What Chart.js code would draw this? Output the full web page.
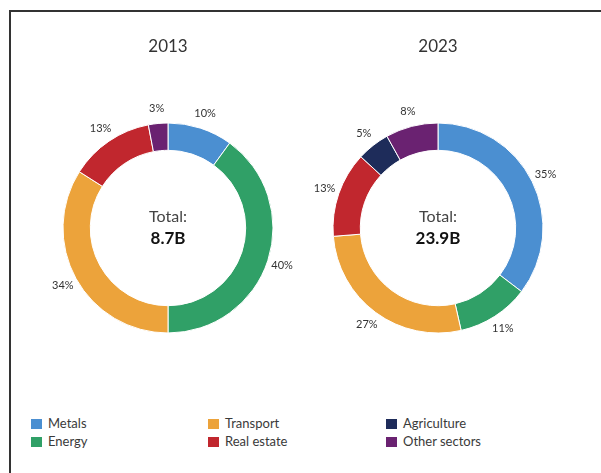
<!DOCTYPE html>
<html>
<head>
<meta charset="utf-8">
<title>Sector split 2013 vs 2023</title>
<script src="https://cdn.jsdelivr.net/npm/chart.js@4.4.1/dist/chart.umd.min.js"></script>
<style>
    html, body { margin: 0; padding: 0; background: #fff; }
    body { width: 601px; height: 473px; position: relative; overflow: hidden; font-family: Lato, "DejaVu Sans", sans-serif; }
    #frame {
        position: absolute; left: 9px; top: 10px; right: -5px; bottom: -5px;
        border-top: 2px solid #333; border-left: 2px solid #333;
    }
    .ring { position: absolute; top: 20px; }
    #legend { position: absolute; left: 0; top: 0; }
    .item { position: absolute; height: 16px; line-height: 16px; font-size: 13px; color: #3a3a3a; white-space: nowrap; }
    .item span { display: inline-block; width: 11px; height: 10px; margin-right: 6px; vertical-align: -1px; }
</style>
</head>
<body>
<div id="frame"></div>
<canvas id="ring2013" class="ring" width="300" height="370" style="left:18px"></canvas>
<canvas id="ring2023" class="ring" width="300" height="370" style="left:288px"></canvas>
<div id="legend"></div>

<script>
// Sectors and their share of the total (percent)
const sectors = ['Metals', 'Energy', 'Transport', 'Real estate', 'Agriculture', 'Other sectors'];
const sectorColors = ['#4b8fd1', '#30a067', '#eca33b', '#c1272e', '#1e2c5a', '#6a2271'];
const share2013 = [10, 40, 34, 13, 0, 3];
const share2023 = [35, 11, 27, 13, 5, 8];
const years = ['2013', '2023'];
const totals = ['8.7B', '23.9B'];

const FONT = 'Lato, "DejaVu Sans", sans-serif';

// Title above the ring, total in the hole, percent labels outside each slice
const ringText = {
    id: 'ringText',
    afterDraw(chart, args, opts) {
        const arcs = chart.getDatasetMeta(0).data;
        if (!arcs.length) return;
        const { x, y, outerRadius } = arcs[0];
        const ctx = chart.ctx;
        const values = chart.data.datasets[0].data;
        ctx.save();
        ctx.textAlign = 'center';
        ctx.textBaseline = 'middle';

        ctx.fillStyle = '#333';
        ctx.font = '17px ' + FONT;
        ctx.fillText(opts.year, x, y - 181);

        ctx.fillStyle = '#444';
        ctx.font = '16px ' + FONT;
        ctx.fillText('Total:', x, y - 11);
        ctx.fillStyle = '#111';
        ctx.font = 'bold 17px ' + FONT;
        ctx.fillText(opts.total, x, y + 11);

        ctx.fillStyle = '#333';
        ctx.font = '11px ' + FONT;
        arcs.forEach((arc, i) => {
            if (!values[i]) return;
            const mid = (arc.startAngle + arc.endAngle) / 2;
            const r = outerRadius + 15;
            ctx.fillText(values[i] + '%', x + Math.cos(mid) * r, y + Math.sin(mid) * r);
        });
        ctx.restore();
    }
};

function makeRing(id, values, year, total)
{
    const ctx = document.getElementById(id).getContext('2d');
    return new Chart(ctx, {
        type: 'doughnut',
        data: {
            labels: sectors,
            datasets: [{
                data: values,
                backgroundColor: sectorColors,
                borderColor: '#fff',
                borderWidth: 1,
            }],
        },
        options: {
            responsive: false,
            animation: false,
            cutout: '74%',
            layout: { padding: { top: 102.5, bottom: 56.5, left: 44.5, right: 44.5 } },
            plugins: {
                legend: { display: false },
                tooltip: { enabled: false },
                ringText: { year: year, total: total },
            },
        },
        plugins: [ringText],
    });
}

makeRing('ring2013', share2013, years[0], totals[0]);
makeRing('ring2023', share2023, years[1], totals[1]);

// Legend in three columns of two rows
const legendCols = [31, 208, 386];
const legendRows = [415, 433];
const legend = document.getElementById('legend');
sectors.forEach((name, i) => {
    const item = document.createElement('div');
    item.className = 'item';
    item.style.left = legendCols[Math.floor(i / 2)] + 'px';
    item.style.top = legendRows[i % 2] + 'px';
    item.innerHTML = '<span style="background:' + sectorColors[i] + '"></span>' + name;
    legend.appendChild(item);
});
</script>
</body>
</html>
